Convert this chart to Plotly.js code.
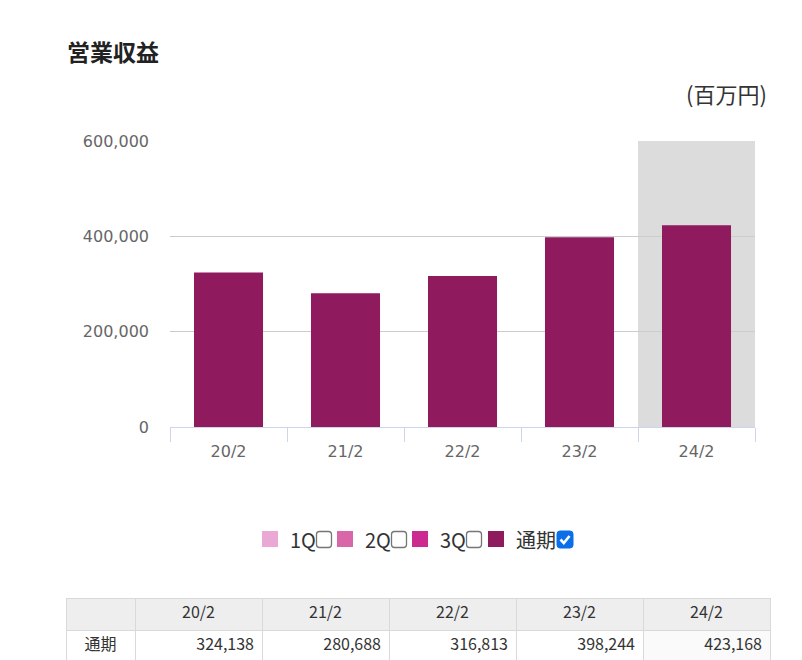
<!DOCTYPE html>
<html>
<head>
<meta charset="utf-8">
<script src="https://cdn.plot.ly/plotly-3.0.1.min.js"></script>
<style>
  html, body { margin: 0; padding: 0; background: #fff; }
  #chart { width: 802px; height: 660px; }
</style>
</head>
<body>
<div id="chart"></div>
<script>
// ---- data ----
const categories = ['20/2', '21/2', '22/2', '23/2', '24/2'];
const annualValues = [324138, 280688, 316813, 398244, 423168];
const seriesNames = ['1Q', '2Q', '3Q', '通期'];
const seriesColors = ['#eaa9d4', '#da66aa', '#cc2a8e', '#8f1a5e'];
const seriesChecked = [false, false, false, true];
const yTickValues = [0, 200000, 400000, 600000];
const tableRowLabel = '通期';
const highlightCategory = '24/2';

// ---- helpers (page pixels -> paper coordinates) ----
const W = 802, H = 660;
const px = x => x / W;
const py = y => 1 - y / H;

const FONT_CJK = 'Noto Sans CJK JP, Noto Sans, sans-serif';
const FONT_AXIS = 'DejaVu Sans, sans-serif';

const barTrace = {
  type: 'bar',
  x: categories,
  y: annualValues,
  marker: { color: seriesColors[3] },
  width: 0.59,
  hoverinfo: 'x+y',
  showlegend: false
};

const fmt = v => v.toLocaleString('en-US');

const tableTrace = {
  type: 'table',
  domain: { x: [px(66), px(770)], y: [0, py(598)] },
  columnwidth: [69, 127, 127, 127, 127, 127],
  header: {
    values: [''].concat(categories),
    align: 'center',
    height: 32,
    fill: { color: '#eeeeee' },
    line: { color: '#d9d9d9', width: 1 },
    font: { family: FONT_CJK, size: 16, color: '#333333' }
  },
  cells: {
    values: [[tableRowLabel]].concat(annualValues.map(v => [fmt(v)])),
    align: ['center', 'right', 'right', 'right', 'right', 'right'],
    height: 30,
    fill: { color: [['#ffffff'], ['#ffffff'], ['#ffffff'], ['#ffffff'], ['#ffffff'], ['#fafafa']] },
    line: { color: '#d9d9d9', width: 1 },
    font: { family: FONT_CJK, size: 16, color: '#333333' }
  }
};

// ---- legend (squares, labels, checkboxes) ----
const shapes = [];
const annotations = [];

const hi = categories.indexOf(highlightCategory);
shapes.push({
  type: 'rect', xref: 'x', yref: 'y', layer: 'below',
  x0: hi - 0.5, x1: hi + 0.5, y0: 0, y1: yTickValues[yTickValues.length - 1],
  fillcolor: '#dcdcdc', line: { width: 0 }
});

const legendItems = [
  { sq: 262, tx: 288, cb: 316 },
  { sq: 337, tx: 363, cb: 391 },
  { sq: 412, tx: 438, cb: 466 },
  { sq: 488, tx: 514, cb: 557 }
];
const ly = 539;
function roundRectPath(x0, y0, x1, y1, r) {
  const X = v => px(v), Y = v => py(v);
  return `M${X(x0 + r)},${Y(y0)} L${X(x1 - r)},${Y(y0)} Q${X(x1)},${Y(y0)} ${X(x1)},${Y(y0 + r)} ` +
         `L${X(x1)},${Y(y1 - r)} Q${X(x1)},${Y(y1)} ${X(x1 - r)},${Y(y1)} L${X(x0 + r)},${Y(y1)} ` +
         `Q${X(x0)},${Y(y1)} ${X(x0)},${Y(y1 - r)} L${X(x0)},${Y(y0 + r)} Q${X(x0)},${Y(y0)} ${X(x0 + r)},${Y(y0)} Z`;
}
seriesNames.forEach((name, i) => {
  const it = legendItems[i];
  shapes.push({
    type: 'rect', xref: 'paper', yref: 'paper',
    x0: px(it.sq), x1: px(it.sq + 16), y0: py(ly + 8), y1: py(ly - 8),
    fillcolor: seriesColors[i], line: { width: 0 }
  });
  annotations.push({
    xref: 'paper', yref: 'paper', x: px(it.tx), y: py(ly),
    xanchor: 'left', yanchor: 'middle', showarrow: false,
    text: name, font: { family: FONT_CJK, size: 20, color: '#333333' }
  });
  const cx0 = it.cb, cy0 = ly - 8, cx1 = it.cb + 16, cy1 = ly + 9;
  if (seriesChecked[i]) {
    shapes.push({ type: 'path', xref: 'paper', yref: 'paper',
      path: roundRectPath(cx0, cy0, cx1, cy1, 3),
      fillcolor: '#0a6fe8', line: { color: '#0a6fe8', width: 1 } });
    shapes.push({ type: 'path', xref: 'paper', yref: 'paper',
      path: `M${px(cx0 + 3.5)},${py(cy0 + 8.5)} L${px(cx0 + 6.8)},${py(cy0 + 12)} L${px(cx0 + 12.5)},${py(cy0 + 5)}`,
      line: { color: '#ffffff', width: 2.6 } });
  } else {
    shapes.push({ type: 'path', xref: 'paper', yref: 'paper',
      path: roundRectPath(cx0 + 0.5, cy0 + 0.5, cx1 - 0.5, cy1 - 0.5, 3),
      fillcolor: '#ffffff', line: { color: '#767676', width: 1.3 } });
  }
});

// titles
annotations.push({
  xref: 'paper', yref: 'paper', x: px(65), y: py(51),
  xanchor: 'left', yanchor: 'middle', showarrow: false,
  text: '<b>営業収益</b>', font: { family: FONT_CJK, size: 23, color: '#222222' }
});
annotations.push({
  xref: 'paper', yref: 'paper', x: px(769), y: py(93),
  xanchor: 'right', yanchor: 'middle', showarrow: false,
  text: '(百万円)', font: { family: FONT_CJK, size: 22, color: '#333333' }
});

const layout = {
  width: W, height: H,
  margin: { l: 0, r: 0, t: 0, b: 0 },
  paper_bgcolor: '#ffffff',
  plot_bgcolor: 'rgba(0,0,0,0)',
  showlegend: false,
  xaxis: {
    domain: [px(170), px(755)],
    anchor: 'y',
    type: 'category',
    showgrid: false,
    showline: true, linecolor: '#ccd6eb', linewidth: 1,
    ticks: 'outside', tickson: 'boundaries', ticklen: 14, tickcolor: '#ccd6eb', tickwidth: 1,
    tickfont: { family: FONT_AXIS, size: 16, color: '#666666' },
    ticklabelstandoff: 10,
    fixedrange: true
  },
  yaxis: {
    domain: [py(427), py(141)],
    anchor: 'x',
    range: [0, yTickValues[yTickValues.length - 1]],
    tickvals: yTickValues,
    ticktext: yTickValues.map(fmt),
    showgrid: true, gridcolor: '#cccccc', gridwidth: 1,
    zeroline: false,
    showline: false,
    ticks: '',
    ticklabelstandoff: 20,
    tickfont: { family: FONT_AXIS, size: 16, color: '#666666' },
    fixedrange: true
  },
  shapes: shapes,
  annotations: annotations
};

Plotly.newPlot('chart', [barTrace, tableTrace], layout, { displayModeBar: false, staticPlot: true });
</script>
</body>
</html>
